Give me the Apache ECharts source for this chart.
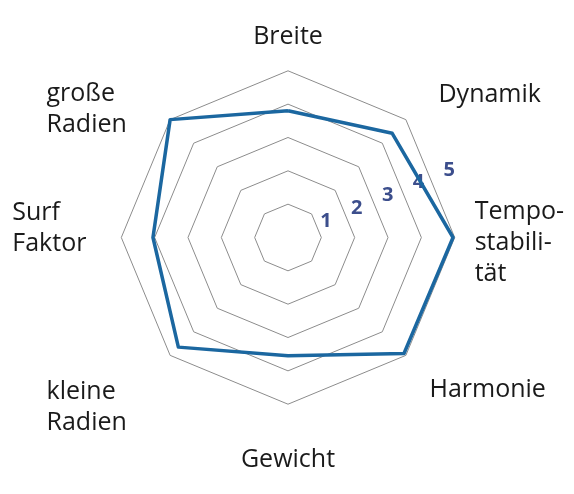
<!DOCTYPE html>
<html>
<head>
<meta charset="utf-8">
<script src="https://cdn.jsdelivr.net/npm/echarts@6/dist/echarts.min.js"></script>
<style>
  html, body { margin: 0; padding: 0; background: #fff; }
  #main { width: 574px; height: 494px; }
</style>
</head>
<body>
<div id="main"></div>
<script>
// indicators in ECharts order (counter-clockwise from the top)
var indicatorNames = ['Breite', 'große\nRadien', 'Surf\nFaktor', 'kleine\nRadien', 'Gewicht', 'Harmonie', 'Tempo-\nstabili-\ntät', 'Dynamik'];
var scores = [3.8, 5.0, 4.05, 4.65, 3.55, 4.92, 4.95, 4.42];
var scaleMax = 5;
var tickLabels = ['1', '2', '3', '4', '5'];

var chart = echarts.init(document.getElementById('main'));
var font = '"Open Sans", sans-serif';
var textColor = '#1a1a1a';

// label nudges: above/below = spacer lines (px), right = spacer before text,
// box = fixed width for the left hand labels so their lines start flush left
var nameLayout = {
    'Breite': { below: 3 },
    'große\nRadien': { box: 113 },
    'Surf\nFaktor': { box: 94, below: 18 },
    'kleine\nRadien': { box: 113, above: 83 },
    'Gewicht': { above: 25 },
    'Harmonie': { right: 13, above: 48 },
    'Tempo-\nstabili-\ntät': { right: 5, above: 10 },
    'Dynamik': { right: 22, below: 28 }
};

var rich = {};
function textKey(box) {
    var k = box ? 'w' + box : 't';
    if (!rich[k]) {
        rich[k] = { fontSize: 25, lineHeight: 31, color: textColor, fontFamily: font };
        if (box) { rich[k].width = box; rich[k].align = 'left'; }
    }
    return k;
}
function vKey(h) {
    var k = 'v' + h;
    rich[k] = { fontSize: 1, lineHeight: h };
    return k;
}
function hKey(w) {
    var k = 'h' + w;
    rich[k] = { fontSize: 1, width: w, lineHeight: 31 };
    return k;
}
function formatName(name) {
    var l = nameLayout[name] || {};
    var tk = textKey(l.box);
    var lines = name.split('\n').map(function (s) {
        return (l.right ? '{' + hKey(l.right) + '| }' : '') + '{' + tk + '|' + s + '}';
    });
    if (l.above) lines.unshift('{' + vKey(l.above) + '| }');
    if (l.below) lines.push('{' + vKey(l.below) + '| }');
    return lines.join('\n');
}
indicatorNames.forEach(formatName);

var option = {
    animation: false,
    radar: [
        {
            center: [288, 237.5],
            radius: 166.7,
            startAngle: 90,
            splitNumber: 5,
            shape: 'polygon',
            nameGap: 15,
            axisName: {
                color: textColor,
                fontFamily: font,
                fontSize: 25,
                lineHeight: 31,
                formatter: formatName,
                rich: rich
            },
            axisLine: { show: false },
            axisTick: { show: false },
            axisLabel: { show: false },
            splitLine: { lineStyle: { color: '#8c8c8c', width: 1 } },
            splitArea: { show: false },
            indicator: indicatorNames.map(function (n) {
                return { name: n, min: 0, max: scaleMax };
            })
        },
        {
            // helper axis along the bisector, only carries the 1..5 labels
            center: [288 + 14 * Math.cos(Math.PI / 8), 239 - 14 * Math.sin(Math.PI / 8)],
            radius: 166.7,
            startAngle: 22.5,
            splitNumber: 5,
            shape: 'polygon',
            axisName: { show: false },
            axisLine: { show: false },
            axisTick: { show: false },
            splitLine: { show: false },
            splitArea: { show: false },
            axisLabel: { show: false },
            indicator: indicatorNames.map(function (n, i) {
                var ind = { name: '', min: 0, max: scaleMax };
                if (i === 0) {
                    ind.axisLabel = {
                        show: true,
                        showMinLabel: false,
                        margin: 0,
                        color: '#3c4e8c',
                        fontFamily: font,
                        fontWeight: 'bold',
                        fontSize: 20,
                        formatter: function (v) {
                            return v >= 1 ? tickLabels[v - 1] : '';
                        }
                    };
                }
                return ind;
            })
        }
    ],
    series: [
        {
            type: 'radar',
            radarIndex: 0,
            symbol: 'none',
            lineStyle: { color: '#1b67a0', width: 3.5 },
            data: [{ value: scores }]
        }
    ]
};
chart.setOption(option);
</script>
</body>
</html>
